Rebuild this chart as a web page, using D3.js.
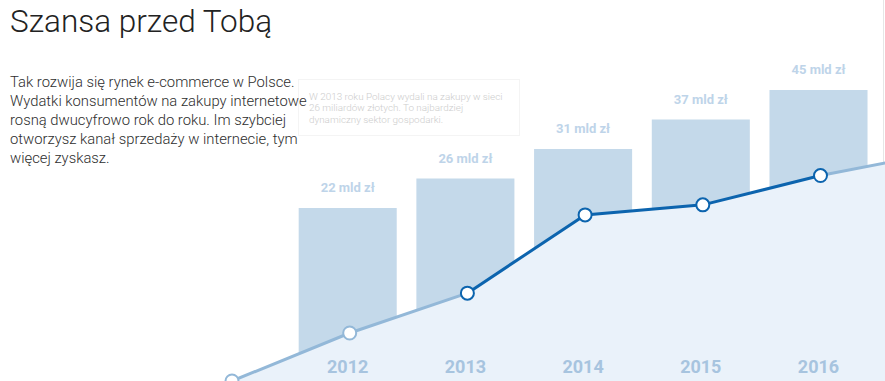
<!DOCTYPE html>
<html>
<head>
<meta charset="utf-8">
<script src="https://cdn.jsdelivr.net/npm/d3@7"></script>
<style>
html,body{margin:0;padding:0;background:#fff;overflow:hidden;}
svg{display:block;}
</style>
</head>
<body>
<svg id="chart" width="885" height="381"></svg>
<script>
// ---- data ----
const title = "Szansa przed Tobą";
const introLines = [
  "Tak rozwija się rynek e-commerce w Polsce.",
  "Wydatki konsumentów na zakupy internetowe",
  "rosną dwucyfrowo rok do roku. Im szybciej",
  "otworzysz kanał sprzedaży w internecie, tym",
  "więcej zyskasz."
];
const tooltipLines = [
  "W 2013 roku Polacy wydali na zakupy w sieci",
  "26 miliardów złotych. To najbardziej",
  "dynamiczny sektor gospodarki."
];
const barYears = [2012, 2013, 2014, 2015, 2016];
const barValues = [22, 26, 31, 37, 45];
const barUnit = "mld zł";
const lineYears = [2011, 2012, 2013, 2014, 2015, 2016, 2017];
const lineValues = [0, 10, 18.3, 34.6, 36.7, 42.8, 47.6];
const highlightYears = [2013, 2016]; // dark segment range

// ---- drawing ----
const W = 885, H = 381;
const svg = d3.select("#chart");
const font = "Roboto, 'Open Sans', sans-serif";

const x = d3.scaleLinear().domain([2012, 2016]).range([347.7, 818.5]);
const step = x(2013) - x(2012);
const barW = step * 0.833;
const barTop = d3.scalePoint().domain(barYears).range([208, 90]);
const y = d3.scaleLinear().domain([0, 50]).range([381, 141]);
const lx = d => x(d) + 2;

svg.append("defs").append("clipPath").attr("id", "clip")
  .append("rect").attr("x", 0).attr("y", 0).attr("width", W).attr("height", H);
const g = svg.append("g").attr("clip-path", "url(#clip)");

// right border
g.append("line").attr("x1", 883.5).attr("x2", 883.5).attr("y1", 0).attr("y2", H)
  .attr("stroke", "#e6e6e6").attr("stroke-width", 1);

// title
svg.append("text").attr("x", 10).attr("y", 32).text(title)
  .attr("font-family", font).attr("font-weight", 300).attr("font-size", 31.5).attr("fill", "#222");

// tooltip box
g.append("rect").attr("x", 298.5).attr("y", 79.5).attr("width", 221).attr("height", 56)
  .attr("fill", "#fff").attr("stroke", "#f4f4f4");
g.selectAll("text.tip").data(tooltipLines).join("text").attr("class", "tip")
  .attr("x", 309).attr("y", (d, i) => 100 + i * 11.3).text(d => d)
  .attr("font-family", font).attr("font-weight", 300).attr("font-size", 9.9).attr("fill", "#cdcdcd");

// intro paragraph
svg.selectAll("text.intro").data(introLines).join("text").attr("class", "intro")
  .attr("x", 10).attr("y", (d, i) => 87 + i * 19).text(d => d)
  .attr("font-family", font).attr("font-weight", 300).attr("font-size", 14.8).attr("fill", "#2e2e2e");

// bars
g.selectAll("rect.bar").data(barYears).join("rect").attr("class", "bar")
  .attr("x", d => x(d) - barW / 2).attr("width", barW)
  .attr("y", d => barTop(d)).attr("height", d => H - barTop(d))
  .attr("fill", "#c4d9ea");
g.selectAll("text.blabel").data(barYears).join("text").attr("class", "blabel")
  .attr("x", d => x(d)).attr("y", d => barTop(d) - 16)
  .attr("text-anchor", "middle").text((d, i) => barValues[i] + " " + barUnit)
  .attr("font-family", font).attr("font-weight", 700).attr("font-size", 13).attr("fill", "#bed4e9");

// area
const pts = lineYears.map((yr, i) => ({yr, v: lineValues[i]}));
const area = d3.area().x(d => lx(d.yr)).y0(H + 5).y1(d => y(d.v));
g.append("path").datum(pts).attr("d", area).attr("fill", "#eaf2fa");

// year labels
g.selectAll("text.year").data(barYears).join("text").attr("class", "year")
  .attr("x", d => x(d)).attr("y", 373).attr("text-anchor", "middle").text(d => d)
  .attr("font-family", font).attr("font-weight", 700).attr("font-size", 18).attr("fill", "#a7c4df");

// lines
const line = d3.line().x(d => lx(d.yr)).y(d => y(d.v));
const [h0, h1] = highlightYears;
const seg1 = pts.filter(d => d.yr <= h0);
const seg2 = pts.filter(d => d.yr >= h0 && d.yr <= h1);
const seg3 = pts.filter(d => d.yr >= h1);
g.append("path").datum(seg1).attr("d", line).attr("fill", "none").attr("stroke", "#93b8d8").attr("stroke-width", 3);
g.append("path").datum(seg3).attr("d", line).attr("fill", "none").attr("stroke", "#93b8d8").attr("stroke-width", 3);
g.append("path").datum(seg2).attr("d", line).attr("fill", "none").attr("stroke", "#0c64ae").attr("stroke-width", 3);

// circles
g.selectAll("circle.pt").data(pts.filter(d => d.yr <= 2016)).join("circle").attr("class", "pt")
  .attr("cx", d => lx(d.yr)).attr("cy", d => y(d.v)).attr("r", 6.5)
  .attr("fill", "#fff").attr("stroke-width", 2)
  .attr("stroke", d => (d.yr >= h0 && d.yr <= h1) ? "#0c64ae" : "#93b8d8");
</script>
</body>
</html>
